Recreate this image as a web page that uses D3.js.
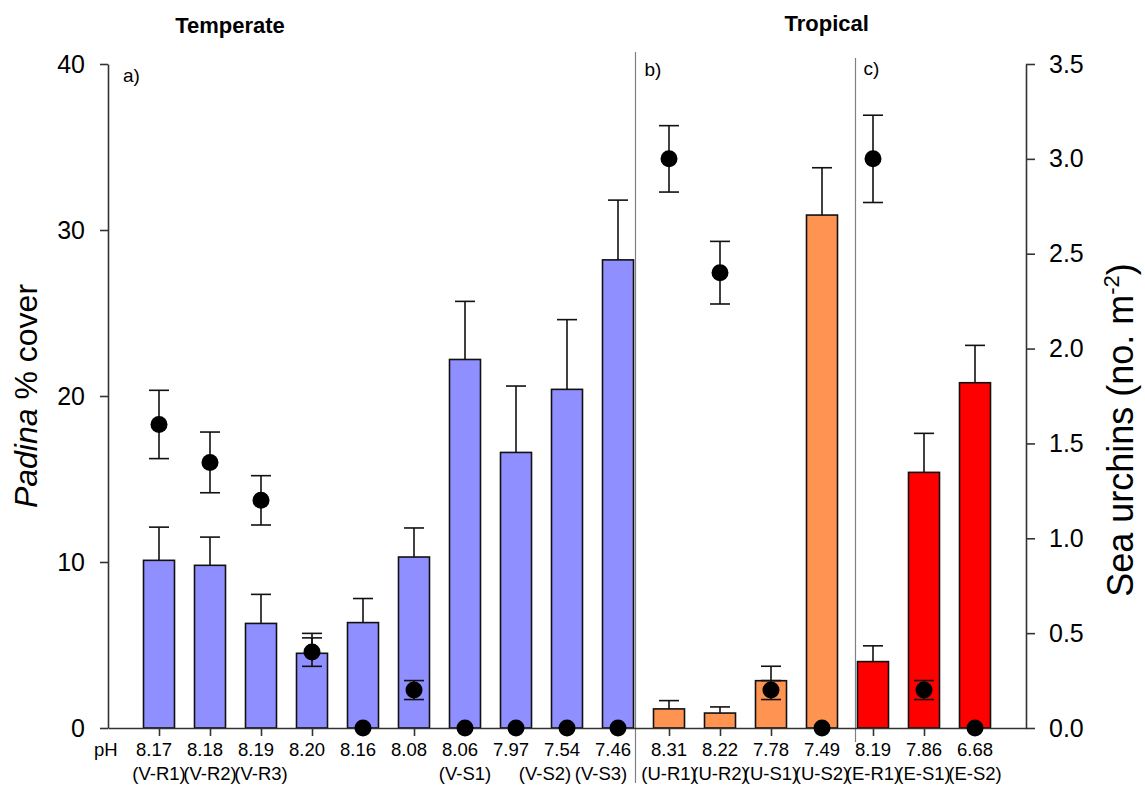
<!DOCTYPE html>
<html>
<head>
<meta charset="utf-8">
<script src="https://cdn.jsdelivr.net/npm/d3@7"></script>
<style>
  body { margin: 0; background: #fff; }
  svg text { font-family: "Liberation Sans", Arial, sans-serif; fill: #000; }
</style>
</head>
<body>
<div id="chart"></div>
<script>
// site data (left to right)
const phValues = ["8.17", "8.18", "8.19", "8.20", "8.16", "8.08", "8.06", "7.97", "7.54", "7.46",
                  "8.31", "8.22", "7.78", "7.49", "8.19", "7.86", "6.68"];
const siteCodes = ["(V-R1)", "(V-R2)", "(V-R3)", "", "", "", "(V-S1)", "", "(V-S2)", "(V-S3)",
                   "(U-R1)", "(U-R2)", "(U-S1)", "(U-S2)", "(E-R1)", "(E-S1)", "(E-S2)"];
const siteGroup = ["V", "V", "V", "V", "V", "V", "V", "V", "V", "V",
                   "U", "U", "U", "U", "E", "E", "E"];

// Padina % cover (bars) and SE
const padinaCover = [10.1, 9.8, 6.3, 4.5, 6.35, 10.3, 22.2, 16.6, 20.4, 28.2,
                     1.15, 0.9, 2.85, 30.9, 4.0, 15.4, 20.8];
const padinaSE = [2.0, 1.7, 1.75, 1.2, 1.45, 1.75, 3.5, 4.0, 4.2, 3.6,
                  0.5, 0.37, 0.87, 2.85, 0.95, 2.35, 2.25];

// sea urchins (dots) and SE
const urchins = [1.6, 1.4, 1.2, 0.4, 0, 0.2, 0, 0, 0, 0,
                 3.0, 2.4, 0.2, 0, 3.0, 0.2, 0];
const urchinSE = [0.18, 0.16, 0.13, 0.075, 0, 0.05, 0, 0, 0, 0,
                  0.175, 0.165, 0.05, 0, 0.23, 0.05, 0];

const leftTicks = [0, 10, 20, 30, 40];
const rightTicks = [0, 0.5, 1, 1.5, 2, 2.5, 3, 3.5];
const groupColors = { V: "#8f8fff", U: "#ff9452", E: "#ff0000" };

const WIDTH = 1145, HEIGHT = 790;
const AXIS_LEFT = 108, AXIS_RIGHT = 1026, PLOT_TOP = 64, PLOT_BOTTOM = 728;
const BAR_W = 31, CAP_W = 20;
const AXIS_COLOR = "#333";

const data = phValues.map((ph, i) => ({
    i, ph, code: siteCodes[i], group: siteGroup[i],
    cover: padinaCover[i], coverSE: padinaSE[i],
    urchin: urchins[i], urchinSE: urchinSE[i]
}));

const svg = d3.select("#chart")
    .append("svg")
    .attr("width", WIDTH)
    .attr("height", HEIGHT)
    .attr("viewBox", `0 0 ${WIDTH} ${HEIGHT}`);

const x = d3.scalePoint()
    .domain(d3.range(data.length))
    .range([AXIS_LEFT, AXIS_RIGHT])
    .padding(1);

const yL = d3.scaleLinear().domain([0, 40]).range([PLOT_BOTTOM, PLOT_TOP]);
const yR = d3.scaleLinear().domain([0, 3.5]).range([PLOT_BOTTOM, PLOT_TOP]);

// panel separators
const sep1 = x(9) + BAR_W / 2 + 2;
const sep2 = x(14) - BAR_W / 2 - 2;
svg.append("line")
    .attr("x1", sep1).attr("x2", sep1).attr("y1", 52).attr("y2", 783)
    .attr("stroke", "#808080").attr("stroke-width", 1.2);
svg.append("line")
    .attr("x1", sep2).attr("x2", sep2).attr("y1", 58).attr("y2", 742)
    .attr("stroke", "#808080").attr("stroke-width", 1.2);

// Bars
svg.selectAll("rect.bar")
    .data(data)
    .join("rect")
    .attr("class", "bar")
    .attr("x", d => x(d.i) - BAR_W / 2)
    .attr("y", d => yL(d.cover))
    .attr("width", BAR_W)
    .attr("height", d => yL(0) - yL(d.cover))
    .attr("fill", d => groupColors[d.group])
    .attr("stroke", "#111")
    .attr("stroke-width", 1.6);

// bar error bars (upper only)
const barErr = svg.append("g").attr("stroke", "#111").attr("stroke-width", 1.6);
barErr.selectAll("line.stem")
    .data(data)
    .join("line")
    .attr("class", "stem")
    .attr("x1", d => x(d.i)).attr("x2", d => x(d.i))
    .attr("y1", d => yL(d.cover)).attr("y2", d => yL(d.cover + d.coverSE));
barErr.selectAll("line.cap")
    .data(data)
    .join("line")
    .attr("class", "cap")
    .attr("x1", d => x(d.i) - CAP_W / 2).attr("x2", d => x(d.i) + CAP_W / 2)
    .attr("y1", d => yL(d.cover + d.coverSE)).attr("y2", d => yL(d.cover + d.coverSE));

// urchin error bars (both ways)
const withSE = data.filter(d => d.urchinSE > 0);
const dotErr = svg.append("g").attr("stroke", "#111").attr("stroke-width", 1.6);
dotErr.selectAll("line.stem")
    .data(withSE)
    .join("line")
    .attr("class", "stem")
    .attr("x1", d => x(d.i)).attr("x2", d => x(d.i))
    .attr("y1", d => yR(d.urchin - d.urchinSE)).attr("y2", d => yR(d.urchin + d.urchinSE));
[-1, 1].forEach(s => {
    dotErr.selectAll(`line.cap${s}`)
        .data(withSE)
        .join("line")
        .attr("class", `cap${s}`)
        .attr("x1", d => x(d.i) - CAP_W / 2).attr("x2", d => x(d.i) + CAP_W / 2)
        .attr("y1", d => yR(d.urchin + s * d.urchinSE))
        .attr("y2", d => yR(d.urchin + s * d.urchinSE));
});

// Axes
const xAxis = svg.append("g")
    .attr("transform", `translate(0,${PLOT_BOTTOM})`)
    .call(d3.axisBottom(x).tickSize(8).tickSizeOuter(0).tickFormat(""));

const leftAxis = svg.append("g")
    .attr("transform", `translate(${AXIS_LEFT},0)`)
    .call(d3.axisLeft(yL).tickValues(leftTicks).tickSize(8).tickSizeOuter(0).tickPadding(15));

const rightAxis = svg.append("g")
    .attr("transform", `translate(${AXIS_RIGHT},0)`)
    .call(d3.axisRight(yR).tickValues(rightTicks).tickSize(9).tickSizeOuter(0)
        .tickPadding(14).tickFormat(d3.format(".1f")));

[xAxis, leftAxis, rightAxis].forEach(g => {
    g.selectAll("path, line").attr("stroke", AXIS_COLOR).attr("stroke-width", 1.6);
    g.selectAll("text")
        .style("font-family", "'Liberation Sans', Arial, sans-serif")
        .style("font-size", "25px")
        .attr("fill", "#000");
});

// Urchin dots
svg.selectAll("circle.urchin")
    .data(data)
    .join("circle")
    .attr("class", "urchin")
    .attr("cx", d => x(d.i))
    .attr("cy", d => yR(d.urchin))
    .attr("r", 8.5)
    .attr("fill", "#000");

// x labels: pH and site codes
svg.append("text")
    .attr("x", 94).attr("y", 756)
    .style("font-size", "18.5px")
    .text("pH");

svg.selectAll("text.ph")
    .data(data)
    .join("text")
    .attr("class", "ph")
    .attr("x", d => x(d.i) - (d.group === "V" ? 5 : 0))
    .attr("y", 756)
    .attr("text-anchor", "middle")
    .style("font-size", "18.5px")
    .text(d => d.ph);

svg.selectAll("text.code")
    .data(data.filter(d => d.code))
    .join("text")
    .attr("class", "code")
    .attr("x", d => x(d.i) - (d.code === "(V-S2)" ? 22 : d.code === "(V-S3)" ? 17 : 0))
    .attr("y", 780)
    .attr("text-anchor", "middle")
    .style("font-size", "18.5px")
    .text(d => d.code);

// panel letters
svg.append("text").attr("x", 123).attr("y", 82).style("font-size", "19px").text("a)");
svg.append("text").attr("x", sep1 + 9).attr("y", 76).style("font-size", "19px").text("b)");
svg.append("text").attr("x", sep2 + 8).attr("y", 75).style("font-size", "19px").text("c)");

// group titles
svg.append("text")
    .attr("x", 230).attr("y", 33)
    .attr("text-anchor", "middle")
    .style("font-size", "22px").style("font-weight", "bold")
    .text("Temperate");
svg.append("text")
    .attr("x", (sep1 + AXIS_RIGHT) / 2 - 4).attr("y", 31)
    .attr("text-anchor", "middle")
    .style("font-size", "22px").style("font-weight", "bold")
    .text("Tropical");

// axis titles
const leftTitle = svg.append("text")
    .attr("transform", `translate(37,${(PLOT_TOP + PLOT_BOTTOM) / 2}) rotate(-90)`)
    .attr("text-anchor", "middle")
    .style("font-size", "32px");
leftTitle.append("tspan").style("font-style", "italic").text("Padina");
leftTitle.append("tspan").text(" % cover");

const rightTitle = svg.append("text")
    .attr("transform", `translate(1133,${(PLOT_TOP + PLOT_BOTTOM) / 2 + 34}) rotate(-90)`)
    .attr("text-anchor", "middle")
    .style("font-size", "36px");
rightTitle.append("tspan").text("Sea urchins (no. m");
rightTitle.append("tspan").attr("dy", -14).style("font-size", "22px").text("-2");
rightTitle.append("tspan").attr("dy", 14).text(")");
</script>
</body>
</html>
